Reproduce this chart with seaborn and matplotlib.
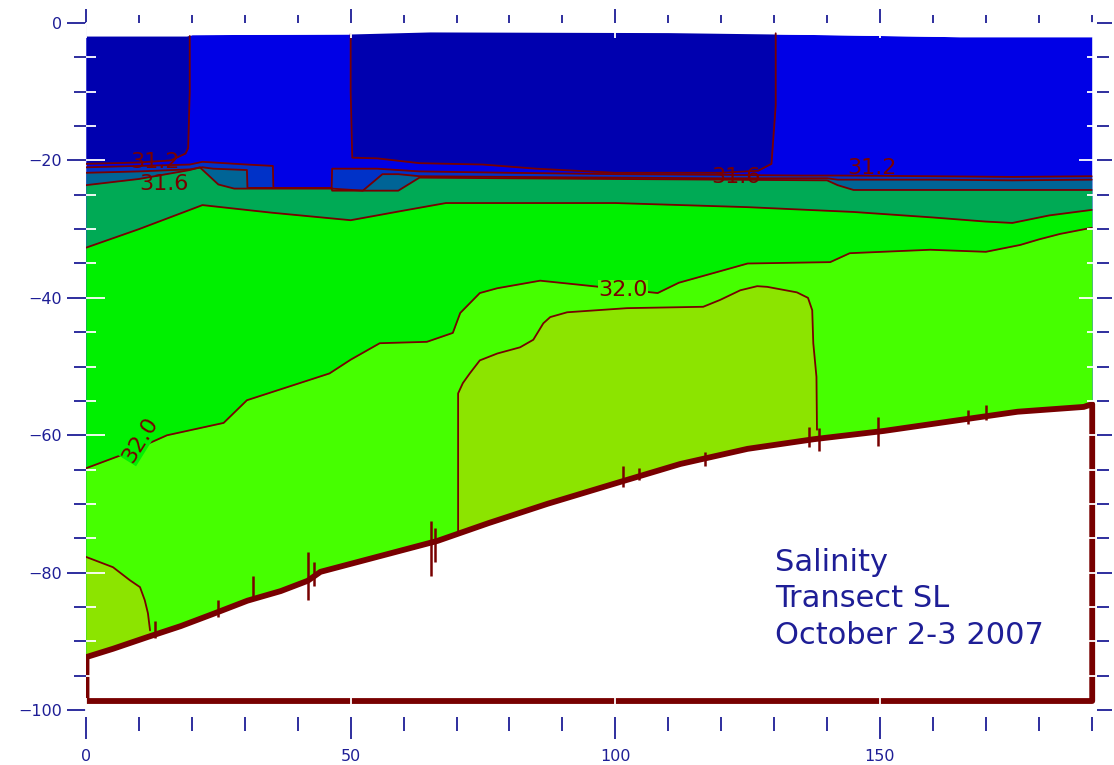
import numpy as np
import matplotlib
matplotlib.use("Agg")
import matplotlib.pyplot as plt
from matplotlib.ticker import MultipleLocator
import seaborn as sns

sns.set_theme(style="white")
plt.rcParams["font.family"] = ["DejaVu Sans"]

# ---------------------------------------------------------------------------
# Transect SL, 2-3 October 2007: along-track distance (x) and depth (m, < 0)
# ---------------------------------------------------------------------------

# top of the sampled water column
surface_x = [0, 19, 20, 50, 65, 110, 140, 165, 190]
surface_d = [-1.9, -1.9, -1.7, -1.6, -1.3, -1.4, -1.7, -2.0, -2.0]

# freshest surface water (< 31.0): two pools
fresh_w_x = [0, 10, 16, 18.8, 19.3, 19.6, 19.6]
fresh_w_d = [-20.5, -20.3, -20.0, -19.0, -18.2, -10.0, -1.9]
fresh_c_x = [50.0, 50.0, 50.3, 55, 63, 75, 85, 100, 120, 127, 129.5, 130.3, 130.3]
fresh_c_d = [-1.6, -10.0, -19.6, -19.7, -20.4, -20.6, -21.2, -21.8, -21.8, -21.5, -20.5, -12.0, -1.5]

# isohaline depths
c312_x = [0, 10, 19.6, 22, 30.4, 35.3, 35.4, 46.4, 46.5, 55, 63, 80, 100, 120, 135, 142, 160, 175, 190]
c312_d = [-21.0, -20.8, -20.6, -20.2, -20.6, -20.8, -24.0, -24.0, -21.2, -21.2, -21.6, -21.8,
          -22.0, -22.1, -22.2, -22.2, -22.3, -22.4, -22.3]

c314_x = [0, 10, 19.6, 22, 24, 30.4, 30.5, 46.4, 46.5, 52.3, 56, 59, 63, 80, 100, 120, 140, 142,
          160, 175, 190]
c314_d = [-21.8, -21.6, -21.3, -21.0, -21.2, -21.4, -24.0, -24.0, -24.4, -24.4, -22.0, -22.0,
          -22.3, -22.4, -22.5, -22.6, -22.6, -22.8, -22.8, -22.9, -22.8]

c316_x = [0, 10, 19.6, 21.5, 25, 28, 46.4, 52.3, 59, 63, 80, 100, 120, 140, 142, 145, 160, 175, 190]
c316_d = [-23.6, -22.7, -21.4, -21.0, -23.5, -24.1, -24.1, -24.4, -24.4, -22.5, -22.6, -22.7,
          -22.8, -22.9, -23.6, -24.3, -24.3, -24.3, -24.3]

c318_x = [0, 10, 22, 35, 50, 60, 68, 100, 125, 145, 160, 170, 175, 182, 190]
c318_d = [-32.7, -30.0, -26.5, -27.6, -28.7, -27.3, -26.2, -26.2, -26.8, -27.5, -28.3, -28.9,
          -29.1, -28.0, -27.2]

c320_x = [0, 8, 15.3, 26, 30.4, 38, 46, 50, 55.5, 64.4, 69.3, 70.7, 74.4, 77.7, 85.8, 93.3, 108,
          112, 118.5, 125, 140.6, 144.3, 159.5, 170, 176.5, 180, 184, 188, 190]
c320_d = [-64.8, -62.5, -60.0, -58.2, -54.9, -53.0, -51.0, -49.0, -46.6, -46.4, -45.1, -42.2,
          -39.3, -38.6, -37.5, -38.1, -39.3, -37.8, -36.4, -35.0, -34.8, -33.5, -33.0, -33.3,
          -32.3, -31.5, -30.7, -30.1, -29.8]

# saltiest bottom water (> 32.2): two pools
c322_w_x = [0, 5.1, 8.3, 10.2, 11.1, 11.7, 12.1]
c322_w_d = [-77.7, -79.2, -81.1, -82.1, -84.0, -85.9, -88.4]
c322_c_x = [70.3, 70.3, 71.2, 72.5, 74.4, 77.7, 82.0, 84.5, 86.4, 87.7, 90.9, 102.2, 116.6, 119.8,
            123.6, 126.8, 128.7, 134.3, 136.4, 137.2, 137.4, 138.0, 138.1]
c322_c_d = [-74.2, -53.9, -52.4, -51.0, -49.1, -48.1, -47.2, -46.1, -43.7, -42.8, -42.1, -41.5,
            -41.3, -40.3, -38.9, -38.3, -38.4, -39.2, -40.0, -41.8, -46.6, -51.5, -59.2]

# bathymetry along the track
seabed_x = [0, 5, 11.5, 17.8, 24, 30.4, 36.7, 41.8, 44.2, 55.5, 66.3, 76, 87.1, 99.6, 112.2,
            124.9, 137.4, 150.6, 163.2, 175.9, 188.4, 190]
seabed_d = [-92.2, -91.0, -89.3, -87.7, -85.9, -84.0, -82.6, -81.1, -79.8, -77.5, -75.3, -72.7,
            -69.9, -67.0, -64.1, -61.9, -60.5, -59.3, -57.9, -56.5, -55.8, -55.4]
floor_depth = -98.6

# echo-sounder spikes on the bottom trace
spike_x = [13.0, 25.0, 31.5, 42.0, 43.0, 65.2, 66.0, 101.5, 104.5, 117.0, 136.5, 138.5, 149.7,
           166.7, 170.0]
spike_top = [-87.0, -84.0, -80.5, -77.0, -78.5, -72.5, -73.5, -64.5, -64.8, -62.5, -58.8, -59.0,
             -57.3, -56.3, -55.6]
spike_bot = [-89.5, -86.5, -84.0, -84.0, -82.0, -80.5, -78.5, -67.5, -66.5, -64.5, -61.7, -62.3,
             -61.5, -58.3, -57.8]

# contour labels
label_text = ["31.2", "31.6", "31.6", "31.2", "32.0", "32.0"]
label_x = [13.0, 14.7, 122.8, 148.5, 101.5, 10.3]
label_y = [-20.2, -23.4, -22.4, -21.1, -38.9, -60.6]
label_rot = [0, 0, 0, 0, 0, 58]
label_bg = [None, None, None, None, "#46FF00", "#00F000"]

title_lines = ["Salinity", "Transect SL", "October 2-3 2007"]

# class colours
col_fresh = "#0000AF"
col_3100 = "#0000E6"
col_3120 = "#0032C8"
col_3140 = "#006496"
col_3160 = "#00AA55"
col_3180 = "#00F000"
col_3200 = "#46FF00"
col_3220 = "#8CE400"
maroon = "#780000"
ink = "#1E1E96"

BOTTOM = -101.0
TOP = 0.0

fig = plt.figure(figsize=(11.14, 7.65), dpi=100)
ax = fig.add_axes([86 / 1114, 48 / 765, 1011 / 1114, 694 / 765])

# salinity classes, painted from the surface downwards to the floor of the section
ax.fill_between(surface_x, surface_d, floor_depth, color=col_3100, lw=0, zorder=1)
ax.fill_between(fresh_w_x, fresh_w_d, TOP, color=col_fresh, lw=0, zorder=1)
ax.fill_between(fresh_c_x, fresh_c_d, TOP, color=col_fresh, lw=0, zorder=1)
ax.fill_between(c312_x, c312_d, floor_depth, color=col_3120, lw=0, zorder=1)
ax.fill_between(c314_x, c314_d, floor_depth, color=col_3140, lw=0, zorder=1)
ax.fill_between(c316_x, c316_d, floor_depth, color=col_3160, lw=0, zorder=1)
ax.fill_between(c318_x, c318_d, floor_depth, color=col_3180, lw=0, zorder=1)
ax.fill_between(c320_x, c320_d, floor_depth, color=col_3200, lw=0, zorder=1)
ax.fill_between(c322_w_x, c322_w_d, floor_depth, color=col_3220, lw=0, zorder=1)
ax.fill_between(c322_c_x, c322_c_d, floor_depth, color=col_3220, lw=0, zorder=1)

# nothing above the shallowest sample
ax.fill_between(surface_x, surface_d, TOP + 5, color="white", lw=0, zorder=1.5)

# isohalines
for bx, bd in [(fresh_w_x, fresh_w_d), (fresh_c_x, fresh_c_d), (c312_x, c312_d),
               (c314_x, c314_d), (c316_x, c316_d), (c318_x, c318_d), (c320_x, c320_d),
               (c322_w_x, c322_w_d), (c322_c_x, c322_c_d)]:
    sns.lineplot(x=bx, y=bd, estimator=None, sort=False, color=maroon, lw=1.3, ax=ax, zorder=2)

# contour labels
for t, lx, ly, rot, bg in zip(label_text, label_x, label_y, label_rot, label_bg):
    kw = dict(ha="center", va="center", rotation=rot, fontsize=16, color=maroon, zorder=2.2)
    if bg:
        kw["bbox"] = dict(boxstyle="square,pad=0.02", fc=bg, ec="none")
    ax.text(lx, ly, t, **kw)

# sea floor
ax.fill_between(seabed_x, seabed_d, floor_depth, facecolor="white", edgecolor=maroon,
                lw=4.2, zorder=3)
ax.vlines(spike_x, spike_bot, spike_top, color=maroon, lw=1.8, zorder=3.1)

# annotation
for i, line in enumerate(title_lines):
    ax.text(130.2, -78.5 - 5.3 * i, line, ha="left", va="center", fontsize=22,
            color=ink, zorder=4)

ax.set_xlim(0, 191)
ax.set_ylim(BOTTOM, TOP)
ax.set_xlabel("")
ax.set_ylabel("")
for s in ax.spines.values():
    s.set_visible(False)

# axis ticks: blue outside, white inside
ax.xaxis.set_major_locator(MultipleLocator(50))
ax.xaxis.set_minor_locator(MultipleLocator(10))
ax.yaxis.set_major_locator(MultipleLocator(20))
ax.yaxis.set_minor_locator(MultipleLocator(5))
ax.tick_params(axis="x", which="major", direction="out", length=16, width=1.3, color=ink,
               labelcolor=ink, labelsize=11.5, pad=7, bottom=True, top=False)
ax.tick_params(axis="x", which="minor", direction="out", length=10, width=1.3, color=ink,
               bottom=True, top=False)
ax.tick_params(axis="y", which="major", direction="out", length=14, width=1.3, color=ink,
               labelcolor=ink, labelsize=11.5, pad=3, left=True, right=False)
ax.tick_params(axis="y", which="minor", direction="out", length=9, width=1.3, color=ink,
               left=True, right=False)


def add_ticks(side, direction, color, major_len, minor_len):
    if side in ("top", "bottom"):
        sec = ax.secondary_xaxis(side)
        axis = sec.xaxis
        axis.set_major_locator(MultipleLocator(50))
        axis.set_minor_locator(MultipleLocator(10))
    else:
        sec = ax.secondary_yaxis(side)
        axis = sec.yaxis
        axis.set_major_locator(MultipleLocator(20))
        axis.set_minor_locator(MultipleLocator(5))
    sec.tick_params(which="major", direction=direction, length=major_len, width=1.3,
                    color=color, labelleft=False, labelright=False, labeltop=False,
                    labelbottom=False)
    sec.tick_params(which="minor", direction=direction, length=minor_len, width=1.3,
                    color=color)
    for s in sec.spines.values():
        s.set_visible(False)
    sec.set_zorder(10)
    return sec


add_ticks("top", "out", ink, 10, 5.5)
add_ticks("right", "out", ink, 11, 8.6)
add_ticks("left", "in", "white", 14, 7)
add_ticks("right", "in", "white", 13, 7)
add_ticks("top", "in", "white", 11, 6)
add_ticks("bottom", "in", "white", 14, 7)

fig.savefig("out.png", dpi=100)
